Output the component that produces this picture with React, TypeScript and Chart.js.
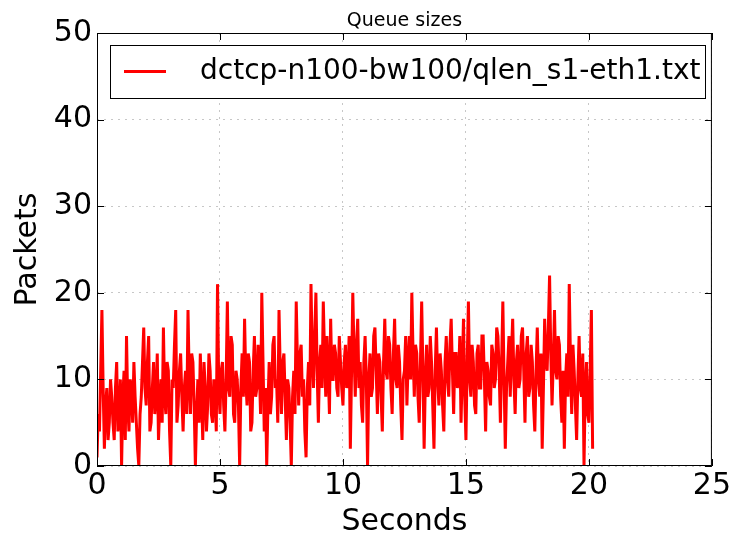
import React, { useEffect, useRef } from "react";
import { Chart, registerables } from "chart.js";

Chart.register(...registerables);

const FONT = "'DejaVu Sans', sans-serif";

const chartTitle = "Queue sizes";
const seriesLabel = "dctcp-n100-bw100/qlen_s1-eth1.txt";
const xAxisLabel = "Seconds";
const yAxisLabel = "Packets";
const xTicks = [0, 5, 10, 15, 20, 25];
const yTicks = [0, 10, 20, 30, 40, 50];
const sampleStart = 0;
const sampleStep = 0.05;

// queue length samples (packets), one every sampleStep seconds
const qlen = [
  1, 6, 4, 11, 18, 9, 2, 7, 9, 3, 5, 10, 8, 5, 3, 9, 12, 4, 6, 10,
  0, 8, 11, 3, 15, 7, 4, 10, 9, 5, 12, 8, 5, 2, 0, 6, 8, 12, 16, 9,
  7, 12, 15, 4, 5, 9, 12, 6, 8, 13, 3, 7, 10, 5, 16, 8, 6, 12, 11, 4,
  0, 10, 9, 14, 18, 5, 7, 11, 13, 8, 4, 9, 11, 6, 18, 10, 6, 13, 12, 7,
  0, 6, 10, 5, 13, 8, 3, 12, 9, 4, 7, 13, 11, 6, 5, 10, 8, 4, 21, 9,
  6, 11, 12, 7, 4, 10, 19, 9, 8, 15, 14, 6, 5, 11, 10, 7, 0, 9, 13, 8,
  17, 10, 7, 13, 12, 4, 5, 11, 15, 8, 9, 14, 11, 6, 20, 12, 4, 9, 0, 7,
  12, 6, 8, 14, 15, 9, 10, 5, 18, 11, 6, 12, 13, 8, 3, 10, 9, 5, 0, 8,
  11, 6, 19, 12, 7, 13, 14, 8, 10, 4, 1, 9, 12, 7, 21, 13, 9, 15, 20, 11,
  5, 12, 14, 9, 19, 13, 8, 15, 11, 6, 17, 10, 10, 14, 13, 9, 8, 15, 12, 9,
  7, 12, 14, 9, 10, 15, 2, 11, 20, 13, 8, 14, 17, 9, 12, 7, 5, 12, 15, 10,
  0, 10, 13, 8, 9, 15, 16, 11, 6, 13, 12, 8, 4, 12, 17, 11, 10, 15, 14, 9,
  6, 13, 17, 10, 9, 14, 12, 7, 3, 10, 11, 15, 7, 12, 15, 10, 20, 13, 8, 14,
  13, 8, 5, 12, 19, 11, 2, 10, 14, 8, 9, 15, 12, 7, 2, 11, 16, 10, 7, 13,
  11, 7, 4, 12, 15, 10, 8, 14, 17, 11, 6, 13, 13, 9, 10, 15, 5, 11, 17, 8,
  3, 12, 19, 10, 8, 14, 12, 7, 6, 13, 14, 9, 9, 15, 15, 10, 4, 12, 11, 8,
  7, 14, 13, 9, 10, 16, 15, 11, 5, 12, 19, 10, 2, 9, 12, 15, 8, 13, 17, 10,
  6, 12, 14, 9, 10, 15, 16, 11, 5, 13, 15, 8, 9, 14, 12, 7, 4, 11, 16, 10,
  8, 13, 2, 9, 17, 12, 11, 16, 22, 13, 7, 12, 18, 11, 10, 15, 14, 8, 5, 11,
  2, 10, 13, 8, 21, 12, 6, 14, 11, 7, 3, 10, 15, 9, 8, 13, 0, 9, 12, 6,
  5, 11, 18, 2,
];

const framePlugin = {
  id: "mplFrame",
  afterDraw(chart: any) {
    const { ctx, chartArea, scales } = chart;
    const { left, right, top, bottom } = chartArea;
    ctx.save();
    // frame
    ctx.strokeStyle = "#000";
    ctx.lineWidth = 1;
    ctx.setLineDash([]);
    ctx.strokeRect(left + 0.5, top + 0.5, right - left - 1, bottom - top - 1);
    // inward ticks
    const tl = 7;
    ctx.beginPath();
    xTicks.forEach((v) => {
      const px = Math.round(scales.x.getPixelForValue(v)) + 0.5;
      ctx.moveTo(px, bottom);
      ctx.lineTo(px, bottom - tl);
      ctx.moveTo(px, top);
      ctx.lineTo(px, top + tl);
    });
    yTicks.forEach((v) => {
      const py = Math.round(scales.y.getPixelForValue(v)) + 0.5;
      ctx.moveTo(left, py);
      ctx.lineTo(left + tl, py);
      ctx.moveTo(right, py);
      ctx.lineTo(right - tl, py);
    });
    ctx.stroke();
    // title
    ctx.fillStyle = "#000";
    ctx.font = `19px ${FONT}`;
    ctx.textAlign = "center";
    ctx.textBaseline = "alphabetic";
    ctx.fillText(chartTitle, (left + right) / 2, top - 7);
    // legend
    const lx = left + 13;
    const ly = top + 12;
    const lw = 595;
    const lh = 53;
    ctx.fillStyle = "#fff";
    ctx.fillRect(lx, ly, lw, lh);
    ctx.strokeStyle = "#000";
    ctx.lineWidth = 1;
    ctx.strokeRect(lx + 0.5, ly + 0.5, lw, lh);
    const cy = ly + lh / 2;
    ctx.strokeStyle = "#ff0000";
    ctx.lineWidth = 3;
    ctx.beginPath();
    ctx.moveTo(lx + 14, cy);
    ctx.lineTo(lx + 56, cy);
    ctx.stroke();
    ctx.fillStyle = "#000";
    ctx.font = `28px ${FONT}`;
    ctx.textAlign = "left";
    ctx.textBaseline = "middle";
    ctx.fillText(seriesLabel, lx + 90, cy);
    ctx.restore();
  },
};

export default function App() {
  const canvasRef = useRef<HTMLCanvasElement | null>(null);

  useEffect(() => {
    if (!canvasRef.current) return;
    const points = qlen.map((v, i) => ({
      x: +(sampleStart + i * sampleStep).toFixed(3),
      y: v,
    }));
    const tickFont = { family: FONT, size: 30 };
    const chart = new Chart(canvasRef.current, {
      type: "line",
      data: {
        datasets: [
          {
            label: seriesLabel,
            data: points,
            borderColor: "#ff0000",
            backgroundColor: "#ff0000",
            borderWidth: 3,
            pointRadius: 0,
            tension: 0,
            fill: false,
          },
        ],
      },
      options: {
        animation: false,
        responsive: true,
        maintainAspectRatio: false,
        layout: { padding: { top: 33, right: 21, left: 0, bottom: 0 } },
        plugins: {
          legend: { display: false },
          title: { display: false },
          tooltip: { enabled: false },
        },
        scales: {
          x: {
            type: "linear",
            min: 0,
            max: 25,
            afterBuildTicks: (s: any) => {
              s.ticks = xTicks.map((v) => ({ value: v }));
            },
            ticks: {
              font: tickFont,
              color: "#000",
              padding: 2,
              maxRotation: 0,
              autoSkip: false,
            },
            grid: { color: "rgba(0,0,0,0.22)", lineWidth: 1, drawTicks: false },
            border: { display: false, dash: [2, 5] },
            title: {
              display: true,
              text: xAxisLabel,
              color: "#000",
              font: { family: FONT, size: 30, lineHeight: 1 },
              padding: { top: 0, bottom: 2 },
            },
            afterFit: (s: any) => {
              s.height = 73;
            },
          },
          y: {
            type: "linear",
            min: 0,
            max: 50,
            afterBuildTicks: (s: any) => {
              s.ticks = yTicks.map((v) => ({ value: v }));
            },
            ticks: { font: tickFont, color: "#000", padding: 5 },
            grid: { color: "rgba(0,0,0,0.22)", lineWidth: 1, drawTicks: false },
            border: { display: false, dash: [2, 5] },
            title: {
              display: true,
              text: yAxisLabel,
              color: "#000",
              font: { family: FONT, size: 30, lineHeight: 1 },
              padding: { top: 13, bottom: 0 },
            },
            afterFit: (s: any) => {
              s.width = 97;
            },
          },
        },
      },
      plugins: [framePlugin],
    });
    return () => chart.destroy();
  }, []);

  return (
    <div
      style={{
        position: "fixed",
        left: 0,
        top: 0,
        width: 733,
        height: 539,
        background: "#fff",
      }}
    >
      <canvas ref={canvasRef} />
    </div>
  );
}
